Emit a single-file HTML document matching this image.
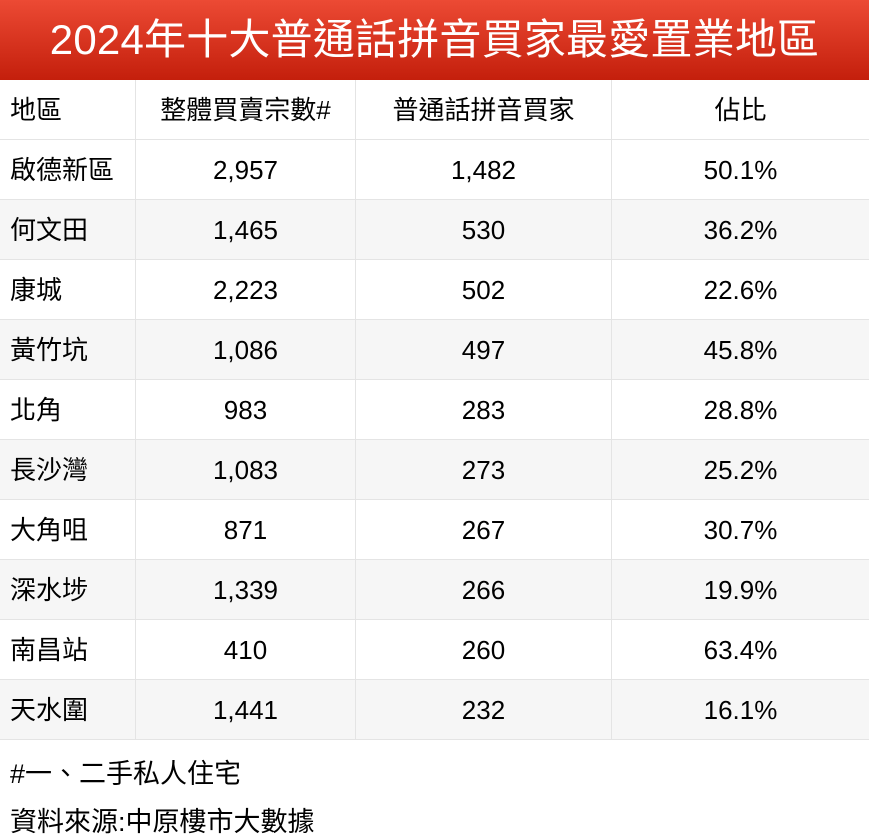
<!DOCTYPE html>
<html><head><meta charset="utf-8"><style>
body{margin:0;width:869px;height:838px;background:#fff;font-family:"Liberation Sans","Noto Sans CJK TC",sans-serif;color:#000;overflow:hidden;position:relative}
.title{position:absolute;left:0;top:0;width:869px;height:80px;background:linear-gradient(#ec4a34,#c41f0c);color:#fff;font-size:42px;text-align:center;line-height:80px;letter-spacing:0.2px}
.row{position:absolute;left:0;width:869px;height:60px;border-bottom:1px solid #e4e4e4;box-sizing:border-box;font-size:26px;line-height:60px}
.g{background:#f6f6f6}
.c{position:absolute;top:0;height:60px;text-align:center;border-right:1px solid #e4e4e4;box-sizing:border-box}
.c1{left:0;width:136px;text-align:left;padding-left:10px}
.c2{left:136px;width:220px}
.c3{left:356px;width:256px}
.c4{left:612px;width:257px;border-right:none}
.f{position:absolute;left:10px;font-size:27px}
</style></head><body>
<div class="title">2024年十大普通話拼音買家最愛置業地區</div>
<div class="row" style="top:80px"><div class="c c1">地區</div><div class="c c2">整體買賣宗數#</div><div class="c c3">普通話拼音買家</div><div class="c c4">佔比</div></div>
<div class="row" style="top:140px"><div class="c c1">啟德新區</div><div class="c c2">2,957</div><div class="c c3">1,482</div><div class="c c4">50.1%</div></div>
<div class="row g" style="top:200px"><div class="c c1">何文田</div><div class="c c2">1,465</div><div class="c c3">530</div><div class="c c4">36.2%</div></div>
<div class="row" style="top:260px"><div class="c c1">康城</div><div class="c c2">2,223</div><div class="c c3">502</div><div class="c c4">22.6%</div></div>
<div class="row g" style="top:320px"><div class="c c1">黃竹坑</div><div class="c c2">1,086</div><div class="c c3">497</div><div class="c c4">45.8%</div></div>
<div class="row" style="top:380px"><div class="c c1">北角</div><div class="c c2">983</div><div class="c c3">283</div><div class="c c4">28.8%</div></div>
<div class="row g" style="top:440px"><div class="c c1">長沙灣</div><div class="c c2">1,083</div><div class="c c3">273</div><div class="c c4">25.2%</div></div>
<div class="row" style="top:500px"><div class="c c1">大角咀</div><div class="c c2">871</div><div class="c c3">267</div><div class="c c4">30.7%</div></div>
<div class="row g" style="top:560px"><div class="c c1">深水埗</div><div class="c c2">1,339</div><div class="c c3">266</div><div class="c c4">19.9%</div></div>
<div class="row" style="top:620px"><div class="c c1">南昌站</div><div class="c c2">410</div><div class="c c3">260</div><div class="c c4">63.4%</div></div>
<div class="row g" style="top:680px"><div class="c c1">天水圍</div><div class="c c2">1,441</div><div class="c c3">232</div><div class="c c4">16.1%</div></div>
<div class="f" style="top:752px">#一、二手私人住宅</div>
<div class="f" style="top:800px">資料來源:中原樓市大數據</div>
</body></html>
